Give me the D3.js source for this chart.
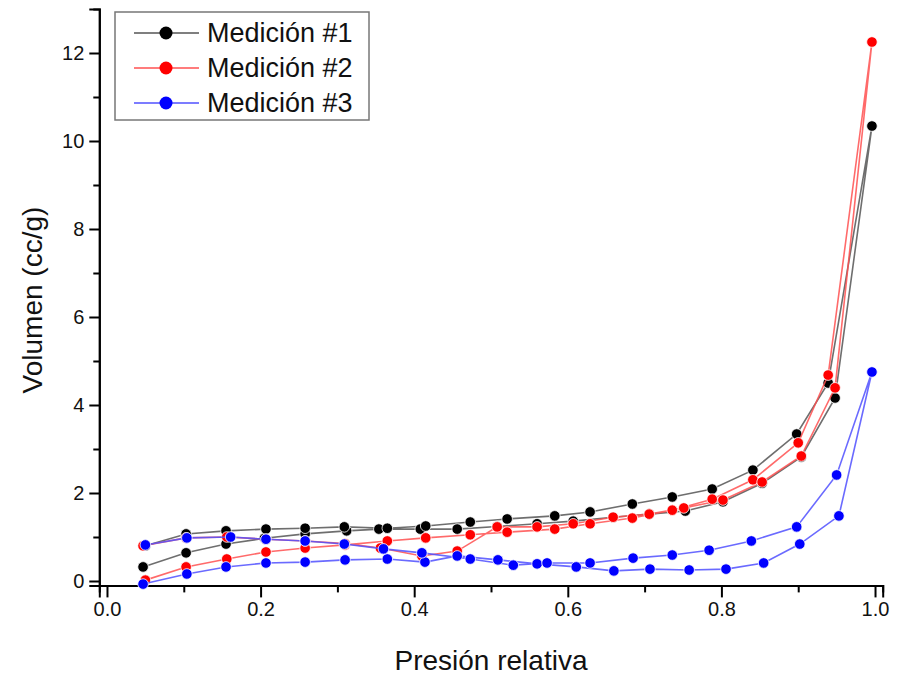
<!DOCTYPE html>
<html>
<head>
<meta charset="utf-8">
<script src="https://cdn.jsdelivr.net/npm/d3@7"></script>
<style>
  body { margin: 0; background: #fff; }
  svg text { font-family: "Liberation Sans", Arial, sans-serif; }
</style>
</head>
<body>
<div id="chart"></div>
<script>
// series labels
var seriesNames = ["Medición #1", "Medición #2", "Medición #3"];

// Medición #1 - adsorption (going up) and desorption (coming back)
var p1Ads = [0.047, 0.103, 0.155, 0.205, 0.258, 0.312, 0.354, 0.408, 0.456, 0.508, 0.56, 0.607, 0.659, 0.706, 0.753, 0.802, 0.853, 0.904, 0.948, 0.996];
var v1Ads = [0.32, 0.64, 0.84, 0.97, 1.07, 1.14, 1.18, 1.18, 1.18, 1.24, 1.30, 1.36, 1.45, 1.52, 1.59, 1.80, 2.22, 2.82, 4.16, 10.34];
var p1Des = [0.939, 0.898, 0.841, 0.788, 0.736, 0.684, 0.629, 0.583, 0.521, 0.473, 0.415, 0.365, 0.309, 0.258, 0.207, 0.155, 0.103, 0.05];
var v1Des = [4.50, 3.34, 2.52, 2.09, 1.91, 1.75, 1.57, 1.48, 1.41, 1.34, 1.25, 1.20, 1.23, 1.20, 1.18, 1.14, 1.07, 0.80];

// Medición #2
var p2Ads = [0.05, 0.103, 0.156, 0.207, 0.258, 0.31, 0.365, 0.415, 0.473, 0.521, 0.583, 0.629, 0.684, 0.736, 0.788, 0.841, 0.90, 0.939, 0.996];
var v2Ads = [0.02, 0.32, 0.50, 0.66, 0.75, 0.82, 0.91, 0.98, 1.05, 1.11, 1.18, 1.30, 1.43, 1.61, 1.86, 2.30, 3.14, 4.68, 12.25];
var p2Des = [0.948, 0.904, 0.853, 0.802, 0.751, 0.706, 0.659, 0.607, 0.56, 0.508, 0.456, 0.41, 0.356, 0.31, 0.258, 0.207, 0.156, 0.103, 0.047];
var v2Des = [4.39, 2.84, 2.25, 1.84, 1.66, 1.52, 1.45, 1.30, 1.23, 1.23, 0.68, 0.57, 0.75, 0.85, 0.91, 0.95, 1.00, 0.98, 0.80];

// Medición #3
var p3Ads = [0.047, 0.104, 0.155, 0.207, 0.258, 0.31, 0.365, 0.414, 0.456, 0.509, 0.56, 0.611, 0.66, 0.707, 0.758, 0.806, 0.855, 0.902, 0.953, 0.996];
var v3Ads = [-0.07, 0.16, 0.32, 0.41, 0.43, 0.48, 0.50, 0.43, 0.57, 0.48, 0.39, 0.32, 0.23, 0.27, 0.25, 0.27, 0.41, 0.84, 1.48, 4.75];
var p3Des = [0.950, 0.898, 0.839, 0.784, 0.736, 0.685, 0.629, 0.573, 0.529, 0.473, 0.41, 0.36, 0.309, 0.258, 0.207, 0.161, 0.104, 0.05];
var v3Des = [2.41, 1.23, 0.91, 0.70, 0.59, 0.52, 0.41, 0.41, 0.36, 0.50, 0.64, 0.73, 0.84, 0.91, 0.95, 1.00, 0.98, 0.82];

var xTicks = [0.0, 0.2, 0.4, 0.6, 0.8, 1.0];
var yTicks = [0, 2, 4, 6, 8, 10, 12];

var width = 898, height = 679;
var dotColors = ["#000000", "#ff0000", "#0000ff"];
var lineColors = ["#555555", "#ff5050", "#5050ff"];

function zip(p, v) {
    return p.map(function (d, i) { return [d, v[i]]; });
}

var series = [
    zip(p1Ads, v1Ads).concat(zip(p1Des, v1Des)),
    zip(p2Ads, v2Ads).concat(zip(p2Des, v2Des)),
    zip(p3Ads, v3Ads).concat(zip(p3Des, v3Des))
];

var svg = d3.select("#chart")
    .append("svg")
    .attr("width", width)
    .attr("height", height);

var x = d3.scaleLinear().domain([-0.01, 1.01]).range([99.3, 882.7]);
var y = d3.scaleLinear().domain([-0.1, 13]).range([585.4, 9]);

// axes: major ticks labelled, minor ones in between
var xAxis = d3.axisBottom(x).tickValues(xTicks).tickFormat(d3.format(".1f")).tickSize(12).tickPadding(4);
var xMinor = d3.axisBottom(x).tickValues(d3.range(0.1, 1.0, 0.2)).tickFormat("").tickSize(7);
var yAxis = d3.axisLeft(y).tickValues(yTicks).tickFormat(d3.format("d")).tickSize(10).tickPadding(5);
var yMinor = d3.axisLeft(y).tickValues(d3.range(1, 13, 2)).tickFormat("").tickSize(6);

var gx = svg.append("g").attr("transform", "translate(0," + y(-0.1) + ")");
gx.call(xAxis);
gx.append("g").call(xMinor);
var gy = svg.append("g").attr("transform", "translate(" + x(-0.01) + ",0)");
gy.call(yAxis);
gy.append("g").call(yMinor);

svg.selectAll(".domain").attr("stroke", "#000").attr("stroke-width", 2);
svg.selectAll(".tick line").attr("stroke", "#000").attr("stroke-width", 2);
svg.selectAll(".tick text").attr("font-size", 20).attr("fill", "#111")
    .attr("font-family", "Liberation Sans, Arial, sans-serif");

// axis titles
svg.append("text")
    .attr("x", 491).attr("y", 670)
    .attr("text-anchor", "middle")
    .attr("font-size", 28)
    .attr("fill", "#111")
    .text("Presión relativa");

svg.append("text")
    .attr("transform", "translate(42," + 300 + ") rotate(-90)")
    .attr("text-anchor", "middle")
    .attr("font-size", 28)
    .attr("fill", "#111")
    .text("Volumen (cc/g)");

var line = d3.line()
    .x(function (d) { return x(d[0]); })
    .y(function (d) { return y(d[1]); });

series.forEach(function (data, i) {
    var g = svg.append("g");
    g.append("path")
        .attr("d", line(data))
        .attr("fill", "none")
        .attr("stroke", lineColors[i])
        .attr("stroke-width", 1.6)
        .attr("stroke-opacity", 0.85);
    g.selectAll("circle")
        .data(data)
        .enter()
        .append("circle")
        .attr("cx", function (d) { return x(d[0]); })
        .attr("cy", function (d) { return y(d[1]); })
        .attr("r", 5.3)
        .attr("fill", dotColors[i])
        .attr("stroke", "#fff")
        .attr("stroke-width", 0.8);
});

// legend
var legend = svg.append("g").attr("transform", "translate(115,12)");
legend.append("rect")
    .attr("width", 254).attr("height", 108)
    .attr("fill", "#fff")
    .attr("stroke", "#777")
    .attr("stroke-width", 1.5);

var item = legend.selectAll(".item")
    .data(seriesNames)
    .enter()
    .append("g")
    .attr("transform", function (d, i) { return "translate(0," + (21 + i * 35) + ")"; });

item.append("line")
    .attr("x1", 19).attr("x2", 84)
    .attr("stroke", function (d, i) { return lineColors[i]; })
    .attr("stroke-width", 1.6);
item.append("circle")
    .attr("cx", 51).attr("r", 6.5)
    .attr("fill", function (d, i) { return dotColors[i]; });
item.append("text")
    .attr("x", 92).attr("y", 9)
    .attr("font-size", 27)
    .attr("fill", "#111")
    .text(function (d) { return d; });
</script>
</body>
</html>
